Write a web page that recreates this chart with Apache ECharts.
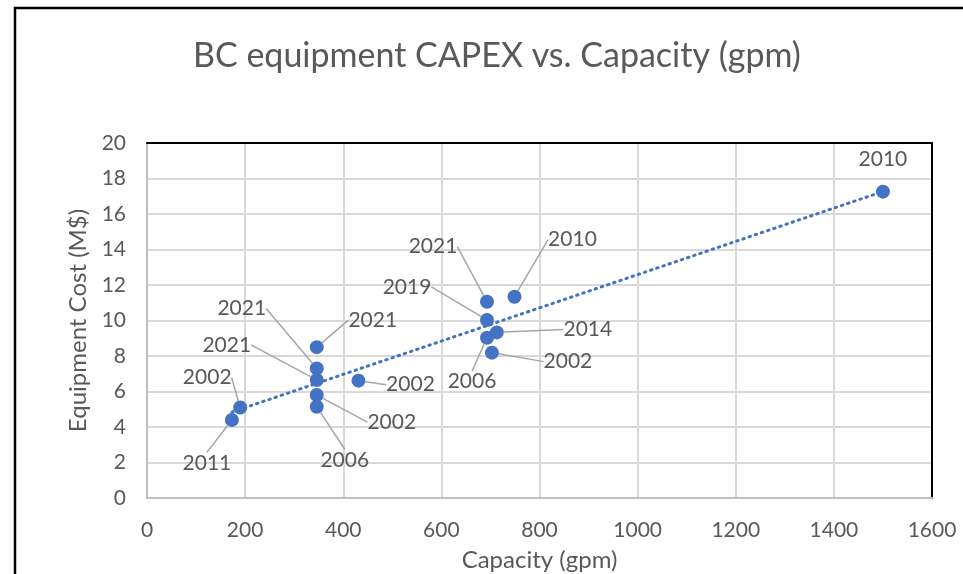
<!DOCTYPE html>
<html>
<head>
<meta charset="utf-8">
<script src="https://cdn.jsdelivr.net/npm/echarts@6/dist/echarts.min.js"></script>
<style>
  html, body { margin: 0; padding: 0; background: #ffffff; }
  #chart { width: 963px; height: 574px; }
</style>
</head>
<body>
<div id="chart"></div>
<script>
// Capacity (gpm) and equipment cost (M$) of each BC unit, with its year
const capacity = [173, 190, 346, 346, 346, 346, 346, 431, 693, 749, 693, 713, 693, 703, 1500];
const cost     = [4.4, 5.1, 8.5, 7.3, 6.65, 5.8, 5.14, 6.61, 11.06, 11.34, 10.03, 9.33, 9.03, 8.19, 17.26];
const year     = ['2011', '2002', '2021', '2021', '2021', '2002', '2006', '2002',
                  '2021', '2010', '2019', '2014', '2006', '2002', '2010'];

// Axis ranges
const xMin = 0, xMax = 1600, xStep = 200;
const yMin = 0, yMax = 20, yStep = 2;

// Where each year label sits relative to its dot (px)
const labelShift = [
  [-25, 43], [-33, -30], [56, -27], [-75, -60], [-90, -35], [75, 27], [28, 53], [52, 4],
  [-54, -55], [58, -57], [-80, -33], [91, -3], [-15, 44], [76, 9], [0, -32]
];

// Least-squares linear trend over the points
function linearFit(xs, ys) {
  const n = xs.length;
  const mx = xs.reduce((a, b) => a + b, 0) / n;
  const my = ys.reduce((a, b) => a + b, 0) / n;
  let sxy = 0, sxx = 0;
  for (let i = 0; i < n; i++) {
    sxy += (xs[i] - mx) * (ys[i] - my);
    sxx += (xs[i] - mx) * (xs[i] - mx);
  }
  const slope = sxy / sxx;
  return { slope, intercept: my - slope * mx };
}
const fit = linearFit(capacity, cost);
const xLo = Math.min(...capacity), xHi = Math.max(...capacity);
const trend = [[xLo, fit.intercept + fit.slope * xLo], [xHi, fit.intercept + fit.slope * xHi]];

const points = capacity.map((x, i) => {
  const item = { value: [x, cost[i], year[i]] };
  if (i === capacity.length - 1) item.labelLine = { show: false };
  return item;
});

const FONT = 'Lato';
const GREY = '#595959';
const BLUE = '#4472C4';

const chart = echarts.init(document.getElementById('chart'), null, { renderer: 'canvas' });

chart.setOption({
  animation: false,
  backgroundColor: '#ffffff',
  title: {
    text: 'BC equipment CAPEX vs. Capacity (gpm)',
    left: 193,
    top: 39,
    padding: 0,
    textStyle: { fontFamily: FONT, fontSize: 34, fontWeight: 'normal', color: GREY }
  },
  graphic: [{
    type: 'polyline',
    shape: { points: [[15, 574], [15, 8], [963, 8]] },
    style: { stroke: '#000000', lineWidth: 2.5, fill: null },
    silent: true
  }],
  grid: { left: 147, top: 143, right: 31, bottom: 76, outerBoundsMode: 'none', containLabel: false },
  xAxis: [{
    type: 'value', min: xMin, max: xMax, interval: xStep,
    name: 'Capacity (gpm)', nameLocation: 'middle', nameGap: 50,
    nameTextStyle: { fontFamily: FONT, fontSize: 24, color: GREY },
    axisLine: { show: true, lineStyle: { color: '#bfbfbf', width: 2 } },
    axisTick: { show: false },
    axisLabel: { fontFamily: FONT, fontSize: 21, color: GREY, margin: 22, formatter: (v) => String(v) },
    splitLine: { show: true, lineStyle: { color: '#d9d9d9', width: 2 } }
  }, {
    type: 'value', min: xMin, max: xMax, position: 'top',
    axisLine: { show: true, onZero: false, lineStyle: { color: '#000000', width: 2 } },
    axisTick: { show: false }, axisLabel: { show: false }, splitLine: { show: false }
  }],
  yAxis: [{
    type: 'value', min: yMin, max: yMax, interval: yStep,
    name: 'Equipment Cost (M$)', nameLocation: 'middle', nameGap: 54,
    nameTextStyle: { fontFamily: FONT, fontSize: 24, color: GREY },
    axisLine: { show: true, lineStyle: { color: '#bfbfbf', width: 2 } },
    axisTick: { show: false },
    axisLabel: { fontFamily: FONT, fontSize: 21, color: GREY, margin: 21, formatter: (v) => String(v) },
    splitLine: { show: true, lineStyle: { color: '#d9d9d9', width: 2 } }
  }, {
    type: 'value', min: yMin, max: yMax, position: 'right',
    axisLine: { show: true, onZero: false, lineStyle: { color: '#000000', width: 2 } },
    axisTick: { show: false }, axisLabel: { show: false }, splitLine: { show: false }
  }],
  series: [{
    name: 'Trend',
    type: 'line',
    data: trend,
    showSymbol: false,
    symbol: 'none',
    lineStyle: { color: BLUE, width: 3, type: [1.5, 5], cap: 'round' },
    z: 2,
    silent: true
  }, {
    name: 'Equipment cost',
    type: 'scatter',
    data: points,
    symbol: 'circle',
    symbolSize: 14,
    itemStyle: { color: BLUE, opacity: 1 },
    z: 3,
    label: {
      show: true,
      position: 'inside',
      formatter: (p) => p.value[2],
      fontFamily: FONT, fontSize: 21, color: GREY
    },
    labelLine: { show: true, lineStyle: { color: '#a6a6a6', width: 1.5 } },
    labelLayout: (p) => ({ dx: labelShift[p.dataIndex][0], dy: labelShift[p.dataIndex][1] })
  }]
});
</script>
</body>
</html>
